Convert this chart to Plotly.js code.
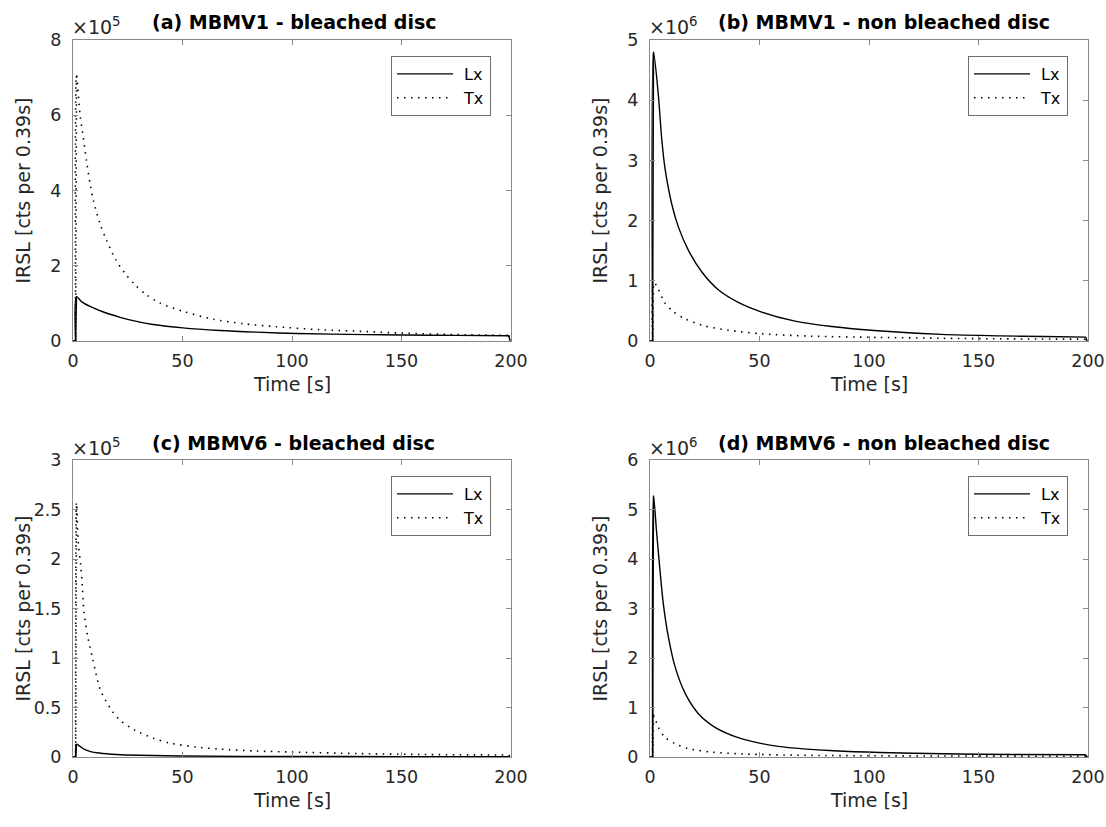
<!DOCTYPE html>
<html>
<head>
<meta charset="utf-8">
<script src="https://cdn.plot.ly/plotly-3.0.1.min.js"></script>
<style>html,body{margin:0;padding:0;background:#fff;}#chart{width:1106px;height:827px;}</style>
</head>
<body>
<div id="chart"></div>
<script>
// ---------- data ----------
var panelTitles = ["(a) MBMV1 - bleached disc", "(b) MBMV1 - non bleached disc",
                   "(c) MBMV6 - bleached disc", "(d) MBMV6 - non bleached disc"];
var seriesNames = ["Lx", "Tx"];
var xTickVals = [0, 50, 100, 150, 200];
var xTickText = ["0", "50", "100", "150", "200"];
var yTickTextA = ["0", "2", "4", "6", "8"];
var yTickTextB = ["0", "1", "2", "3", "4", "5"];
var yTickTextC = ["0", "0.5", "1", "1.5", "2", "2.5", "3"];
var yTickTextD = ["0", "1", "2", "3", "4", "5", "6"];
var exponents = [5, 6, 5, 6];

// (a) MBMV1 bleached, values x1e5
var aLxTime = [0, 1.2, 1.6, 4.0, 7.8, 13.9, 21.5, 29, 36.6, 50.2, 67, 83.7, 102, 134, 150, 175, 199, 199.6];
var aLx     = [0, 0, 1.18, 1.04, 0.92, 0.77, 0.63, 0.52, 0.44, 0.35, 0.28, 0.235, 0.2, 0.17, 0.16, 0.15, 0.14, 0];
var aTxTime = [0, 1.2, 1.6, 3.2, 4.7, 6.2, 7.8, 9.3, 12.3, 15.3, 19.4, 23.7, 28.2, 33.5, 39.6, 50.2, 63.9, 77.6, 92.8, 112.6, 134, 150, 175, 199, 199.6];
var aTx     = [0, 0, 7.06, 6.02, 5.41, 4.77, 4.18, 3.74, 3.12, 2.68, 2.17, 1.80, 1.50, 1.23, 1.01, 0.79, 0.58, 0.46, 0.38, 0.30, 0.25, 0.21, 0.17, 0.15, 0];

// (b) MBMV1 non bleached, values x1e6
var bLxTime = [0, 1.2, 1.6, 3.8, 5.3, 6.8, 9.9, 12.9, 17.5, 23.6, 31.2, 40.3, 51, 66.2, 83, 104, 133, 160, 180, 199, 199.6];
var bLx     = [0, 0, 4.80, 4.09, 3.38, 2.88, 2.28, 1.90, 1.51, 1.15, 0.85, 0.64, 0.48, 0.33, 0.24, 0.17, 0.11, 0.085, 0.075, 0.065, 0];
var bTxTime = [0, 1.2, 1.6, 3.8, 6.8, 10.6, 15.9, 25, 35.7, 51, 73.8, 104, 133, 165, 199, 199.6];
var bTx     = [0, 0, 0.99, 0.86, 0.63, 0.49, 0.37, 0.25, 0.18, 0.12, 0.08, 0.06, 0.045, 0.035, 0.03, 0];

// (c) MBMV6 bleached, values x1e5
var cLxTime = [0, 1.2, 1.6, 3, 5, 8, 12, 20, 30, 50, 100, 150, 199, 199.6];
var cLx     = [0, 0, 0.13, 0.11, 0.08, 0.055, 0.04, 0.025, 0.017, 0.01, 0.005, 0.004, 0.003, 0];
var cTxTime = [0, 1.2, 1.6, 2.4, 3.5, 4.3, 5.0, 6.7, 9.0, 10.5, 12.6, 17.7, 21.5, 28.3, 36.7, 44.3, 56.5, 67, 84, 100, 130, 160, 199, 199.6];
var cTx     = [0, 0, 2.57, 2.17, 1.94, 1.71, 1.47, 1.22, 0.99, 0.84, 0.67, 0.47, 0.37, 0.27, 0.19, 0.14, 0.10, 0.08, 0.06, 0.05, 0.035, 0.025, 0.02, 0];

// (d) MBMV6 non bleached, values x1e6
var dLxTime = [0, 1.2, 1.6, 3.0, 4.6, 6.1, 8.4, 11.4, 16, 22, 29.7, 40.3, 50, 58.6, 70, 83.9, 105, 134, 165, 199, 199.6];
var dLx     = [0, 0, 5.28, 4.55, 3.75, 3.09, 2.42, 1.83, 1.29, 0.88, 0.60, 0.39, 0.28, 0.215, 0.165, 0.125, 0.09, 0.065, 0.05, 0.045, 0];
var dTxTime = [0, 1.2, 1.6, 3.8, 6.8, 11.4, 17.5, 28, 43, 73.8, 134, 199, 199.6];
var dTx     = [0, 0, 0.85, 0.60, 0.40, 0.27, 0.17, 0.10, 0.06, 0.033, 0.02, 0.015, 0];

// ---------- construction ----------
var W = 1106, H = 827;
function px(x) { return x / W; }
function py(y) { return 1 - y / H; }

// box: [left, right, top, bottom] in px; tX: title left edge; tY/eY: title/exponent centre y
var panels = [
  {t: [aLxTime, aTxTime], v: [aLx, aTx], ticks: yTickTextA, box: [73, 511, 40, 341], tX: 150, tY: 22, eY: 26},
  {t: [bLxTime, bTxTime], v: [bLx, bTx], ticks: yTickTextB, box: [650, 1088, 40, 341], tX: 716, tY: 22, eY: 26},
  {t: [cLxTime, cTxTime], v: [cLx, cTx], ticks: yTickTextC, box: [73, 511, 460, 757], tX: 150, tY: 443, eY: 447},
  {t: [dLxTime, dTxTime], v: [dLx, dTx], ticks: yTickTextD, box: [650, 1088, 460, 757], tX: 716, tY: 443, eY: 447}
];

var FONT = "DejaVu Sans, Liberation Sans, Arial, sans-serif";
var AXC = "#8a8a8a";
var TXC = "#262626";
var traces = [];
var layout = {
  width: W, height: H,
  margin: {l: 0, r: 0, t: 0, b: 0},
  paper_bgcolor: "#fff", plot_bgcolor: "#fff",
  font: {family: FONT, color: TXC},
  annotations: [],
  showlegend: true
};

panels.forEach(function (p, i) {
  var n = i + 1;
  var xa = "xaxis" + (n === 1 ? "" : n), ya = "yaxis" + (n === 1 ? "" : n);
  var xr = "x" + (n === 1 ? "" : n), yr = "y" + (n === 1 ? "" : n);
  var lg = "legend" + (n === 1 ? "" : n);
  var scale = Math.pow(10, exponents[i]);
  var b = p.box;

  for (var s = 0; s < 2; s++) {
    var t = p.t[s], v = p.v[s].map(function (q) { return q * scale; });
    var L = t.length;
    var line = s === 0 ? {color: "#000", width: 1.4} : {color: "#000", width: 1.6, dash: "1.5px,5.5px"};
    traces.push({
      type: "scatter", mode: "lines", name: seriesNames[s],
      x: t.slice(1, L - 1), y: v.slice(1, L - 1),
      xaxis: xr, yaxis: yr, legend: lg,
      line: Object.assign({shape: "spline", smoothing: 0.8}, line),
      hoverinfo: "skip"
    });
    traces.push({
      type: "scatter", mode: "lines", name: seriesNames[s], showlegend: false,
      x: [t[0], t[1], t[2], null, t[L - 2], t[L - 1]],
      y: [v[0], v[1], v[2], null, v[L - 2], v[L - 1]],
      xaxis: xr, yaxis: yr, legend: lg,
      line: line, hoverinfo: "skip"
    });
  }

  var yvals = p.ticks.map(function (q) { return parseFloat(q) * scale; });
  layout[xa] = {
    domain: [px(b[0]), px(b[1])], anchor: yr, range: [0, 200],
    tickvals: xTickVals, ticktext: xTickText,
    ticks: "inside", ticklen: 5, tickwidth: 1, tickcolor: AXC,
    showline: true, linecolor: AXC, linewidth: 1, mirror: "ticks",
    showgrid: false, zeroline: false, ticklabeloverflow: "allow",
    tickfont: {family: FONT, size: 17.5, color: TXC}, ticklabelstandoff: 4
  };
  layout[ya] = {
    domain: [py(b[3]), py(b[2])], anchor: xr, range: [0, yvals[yvals.length - 1]],
    tickvals: yvals, ticktext: p.ticks,
    ticks: "inside", ticklen: 5, tickwidth: 1, tickcolor: AXC,
    showline: true, linecolor: AXC, linewidth: 1, mirror: "ticks",
    showgrid: false, zeroline: false, ticklabeloverflow: "allow",
    tickfont: {family: FONT, size: 17.5, color: TXC}, ticklabelstandoff: 7
  };
  layout[lg] = {
    x: px(b[1] - 20), y: py(b[2] + 16), xanchor: "right", yanchor: "top",
    bgcolor: "#fff", bordercolor: "#6e6e6e", borderwidth: 1,
    font: {family: FONT, size: 16, color: "#000"},
    itemwidth: 62, tracegroupgap: 0
  };

  var cx = (b[0] + b[1]) / 2;
  layout.annotations.push({
    xref: "paper", yref: "paper", x: px(p.tX), y: py(p.tY),
    xanchor: "left", yanchor: "middle", showarrow: false,
    text: "<b>" + panelTitles[i] + "</b>", font: {family: FONT, size: 19, color: "#000"}
  });
  layout.annotations.push({
    xref: "paper", yref: "paper", x: px(b[0] - 3), y: py(p.eY),
    xanchor: "left", yanchor: "middle", showarrow: false,
    text: "\u00d710<sup>" + exponents[i] + "</sup>", font: {family: FONT, size: 19, color: TXC}
  });
  layout.annotations.push({
    xref: "paper", yref: "paper", x: px(cx), y: py(b[3] + 43),
    xanchor: "center", yanchor: "middle", showarrow: false,
    text: "Time [s]", font: {family: FONT, size: 19, color: TXC}
  });
  layout.annotations.push({
    xref: "paper", yref: "paper", x: px(b[0] - 51), y: py((b[2] + b[3]) / 2),
    xanchor: "center", yanchor: "middle", showarrow: false, textangle: -90,
    text: "IRSL [cts per 0.39s]", font: {family: FONT, size: 19, color: TXC}
  });
});

Plotly.newPlot("chart", traces, layout, {displayModeBar: false, staticPlot: true}).then(function () {
  // lengthen the legend line samples to match the reference legend
  document.querySelectorAll(".legendlines path").forEach(function (el) {
    el.setAttribute("d", "M5,0h56");
  });
});
</script>
</body>
</html>
